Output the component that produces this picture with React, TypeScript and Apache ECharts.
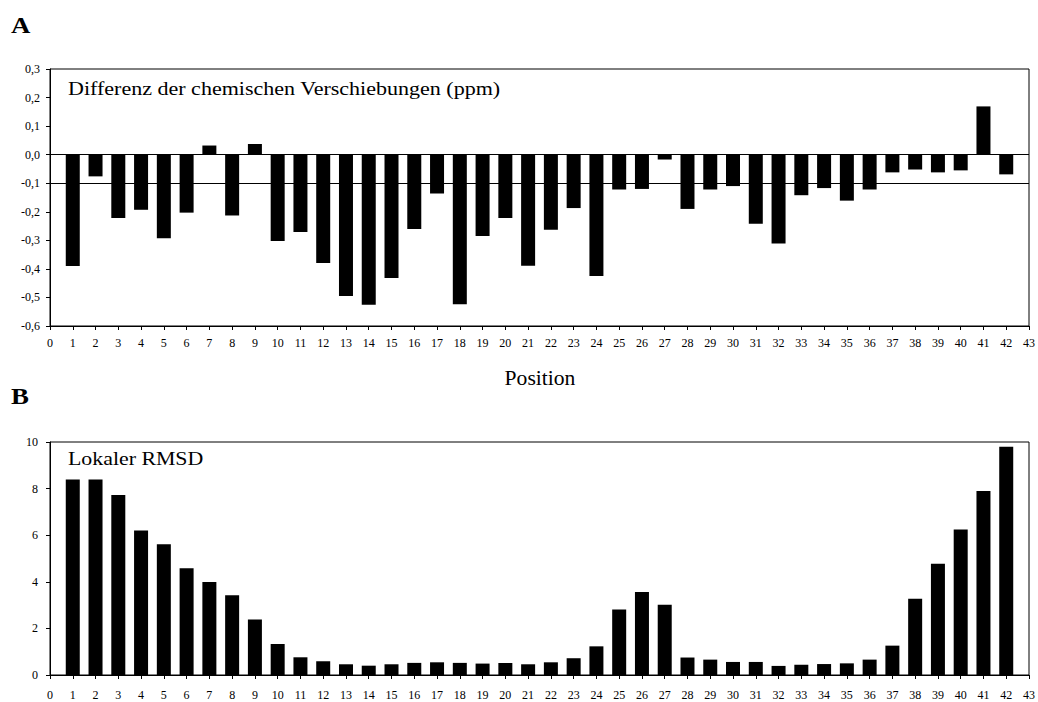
import React, { useEffect, useRef } from "react";
import * as echarts from "echarts";

// Residue positions 1..42
const positions: number[] = Array.from({ length: 42 }, (_, i) => i + 1);

// Panel A: chemical shift differences (ppm)
const shiftDiff: number[] = [
  -0.39, -0.076, -0.222, -0.193, -0.293, -0.203, 0.032, -0.213, 0.037, -0.302,
  -0.271, -0.379, -0.495, -0.526, -0.432, -0.26, -0.136, -0.524, -0.285, -0.222,
  -0.389, -0.263, -0.187, -0.425, -0.122, -0.12, -0.017, -0.19, -0.122, -0.11,
  -0.242, -0.311, -0.142, -0.117, -0.161, -0.122, -0.062, -0.052, -0.062, -0.055,
  0.169, -0.069,
];

// Panel B: local RMSD
const localRmsd: number[] = [
  8.39, 8.39, 7.73, 6.2, 5.61, 4.58, 3.99, 3.42, 2.38, 1.33,
  0.76, 0.59, 0.46, 0.4, 0.46, 0.52, 0.545, 0.52, 0.49, 0.52,
  0.46, 0.545, 0.72, 1.23, 2.81, 3.56, 3.01, 0.75, 0.66, 0.56,
  0.56, 0.39, 0.44, 0.47, 0.5, 0.66, 1.26, 3.27, 4.78, 6.24,
  7.9, 9.8,
];

// Reference lines in panel A
const shiftRefLines: number[] = [0, -0.1];

const panelLetters = ["A", "B"];
const panelTitles = [
  "Differenz der chemischen Verschiebungen (ppm)",
  "Lokaler RMSD",
];
const xAxisName = "Position";

const FONT = "Liberation Serif";

function commaDecimal(v: number): string {
  if (Math.abs(v) < 1e-9) return "0,0";
  return v.toFixed(1).replace(".", ",");
}

export default function App() {
  const ref = useRef<HTMLDivElement>(null);

  useEffect(() => {
    if (!ref.current) return;
    const chart = echarts.init(ref.current, undefined, { renderer: "svg" });

    const axisLine = { show: true, lineStyle: { color: "#000", width: 1 } };
    const axisTick = { show: true, length: 4, lineStyle: { color: "#000", width: 1 } };
    const xAxisBase = {
      type: "value" as const,
      min: 0,
      max: 43,
      interval: 1,
      axisLine: { ...axisLine, onZero: false },
      axisTick,
      splitLine: { show: false },
    };
    const textBase = { fill: "#000", fontFamily: FONT, textVerticalAlign: "middle" };

    chart.setOption({
      animation: false,
      backgroundColor: "#fff",
      textStyle: { fontFamily: FONT },
      grid: [
        {
          left: 50, right: 8, top: 69, height: 257,
          show: true, borderColor: "#000", borderWidth: 1, backgroundColor: "transparent",
        },
        {
          left: 50, right: 8, top: 442, height: 233,
          show: true, borderColor: "#000", borderWidth: 1, backgroundColor: "transparent",
        },
      ],
      xAxis: [
        {
          ...xAxisBase,
          gridIndex: 0,
          axisLabel: { color: "#000", fontFamily: FONT, fontSize: 12, margin: 11 },
        },
        {
          ...xAxisBase,
          gridIndex: 1,
          axisLabel: { color: "#000", fontFamily: FONT, fontSize: 12, margin: 14 },
        },
      ],
      yAxis: [
        {
          type: "value",
          gridIndex: 0,
          min: -0.6,
          max: 0.3,
          interval: 0.1,
          axisLine,
          axisTick,
          splitLine: { show: false },
          axisLabel: {
            color: "#000", fontFamily: FONT, fontSize: 12, margin: 10,
            formatter: (v: number) => commaDecimal(v),
          },
        },
        {
          type: "value",
          gridIndex: 1,
          min: 0,
          max: 10,
          interval: 2,
          axisLine,
          axisTick,
          splitLine: { show: false },
          axisLabel: { color: "#000", fontFamily: FONT, fontSize: 12, margin: 12 },
        },
      ],
      series: [
        {
          type: "bar",
          xAxisIndex: 0,
          yAxisIndex: 0,
          barWidth: 14,
          itemStyle: { color: "#000" },
          data: positions.map((p, i) => [p, shiftDiff[i]]),
          markLine: {
            silent: true,
            symbol: "none",
            label: { show: false },
            lineStyle: { color: "#000", width: 1, type: "solid" },
            data: shiftRefLines.map((y) => ({ yAxis: y })),
          },
        },
        {
          type: "bar",
          xAxisIndex: 1,
          yAxisIndex: 1,
          barWidth: 14,
          itemStyle: { color: "#000" },
          data: positions.map((p, i) => [p, localRmsd[i]]),
        },
      ],
      graphic: [
        {
          type: "text", x: 11, y: 25, scaleX: 1.12,
          style: { ...textBase, text: panelLetters[0], fontSize: 24, fontWeight: "bold", textAlign: "left" },
        },
        {
          type: "text", x: 11, y: 396, scaleX: 1.12,
          style: { ...textBase, text: panelLetters[1], fontSize: 24, fontWeight: "bold", textAlign: "left" },
        },
        {
          type: "text", x: 68, y: 89, scaleX: 1.16,
          style: { ...textBase, text: panelTitles[0], fontSize: 19, textAlign: "left" },
        },
        {
          type: "text", x: 68, y: 459, scaleX: 1.15,
          style: { ...textBase, text: panelTitles[1], fontSize: 19, textAlign: "left" },
        },
        {
          type: "text", x: 540, y: 378, scaleX: 1.08,
          style: { ...textBase, text: xAxisName, fontSize: 20, textAlign: "center" },
        },
      ],
    });

    return () => chart.dispose();
  }, []);

  return (
    <div
      ref={ref}
      style={{ position: "absolute", left: 0, top: 0, width: 1038, height: 702 }}
    />
  );
}
